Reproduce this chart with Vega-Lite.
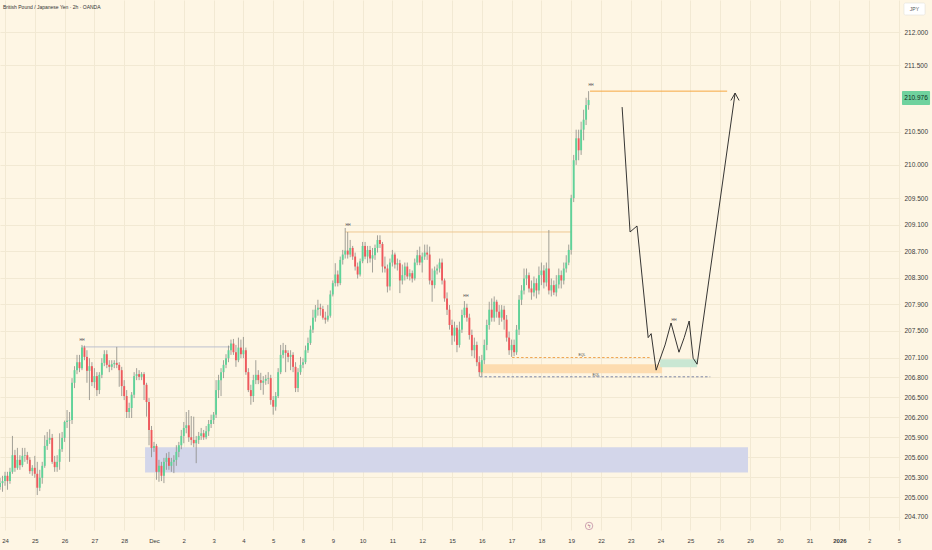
{
"$schema": "https://vega.github.io/schema/vega-lite/v6.json",
"width": 900, "height": 530,
"autosize": {"type": "none"},
"padding": {"left": 0, "top": 0, "right": 32, "bottom": 20},
"background": "#fef6e4",
"title": {"text": "British Pound / Japanese Yen · 2h · OANDA", "anchor": "start", "frame": "group", "offset": 0, "dx": 3, "dy": 10, "fontSize": 5, "fontWeight": "normal", "color": "#333333", "font": "Liberation Sans"},
"config": {"view": {"stroke": null},
"axis": {"labelOverlap": false, "labelFlush": false, "grid": true, "gridColor": "#f2e9d3", "gridWidth": 1, "ticks": false, "domain": false, "labelColor": "#3b3b3b", "labelFont": "Liberation Sans", "title": null},
"axisX": {"labelPadding": 7, "labelFontSize": 6},
"axisY": {"labelPadding": 4, "labelFontSize": 6.5}
},
"datasets": {
"zones": [
{"zone": "blue", "x1": 56.4, "x2": 299.2, "p1": 205.75, "p2": 205.37},
{"zone": "orange", "x1": 191.3, "x2": 264.6, "p1": 207.0, "p2": 206.865},
{"zone": "green", "x1": 263.8, "x2": 278.7, "p1": 207.075, "p2": 206.955}
],
"hlines": [
{"name": "hh1", "kind": "solid", "x1": 31, "x2": 90.6, "p": 207.26},
{"name": "hh2", "kind": "solid", "x1": 137, "x2": 228.3, "p": 208.99},
{"name": "hh3", "kind": "solid", "x1": 235.6, "x2": 290.8, "p": 211.11},
{"name": "eql1", "kind": "dash", "x1": 204.2, "x2": 259.8, "p": 207.1},
{"name": "eql2", "kind": "dash", "x1": 191.3, "x2": 284, "p": 206.81}
],
"candles": [
{"i":-2,"o":205.15,"h":205.29,"l":205.11,"c":205.21},
{"i":-1,"o":205.21,"h":205.32,"l":205.08,"c":205.24},
{"i":0,"o":205.24,"h":205.38,"l":205.17,"c":205.32},
{"i":1,"o":205.32,"h":205.38,"l":205.11,"c":205.24},
{"i":2,"o":205.24,"h":205.44,"l":205.20,"c":205.38},
{"i":3,"o":205.38,"h":205.92,"l":205.35,"c":205.63},
{"i":4,"o":205.63,"h":205.71,"l":205.38,"c":205.44},
{"i":5,"o":205.44,"h":205.74,"l":205.41,"c":205.56},
{"i":6,"o":205.56,"h":205.63,"l":205.41,"c":205.48},
{"i":7,"o":205.48,"h":205.74,"l":205.45,"c":205.62},
{"i":8,"o":205.62,"h":205.74,"l":205.53,"c":205.63},
{"i":9,"o":205.63,"h":205.68,"l":205.50,"c":205.56},
{"i":10,"o":205.56,"h":205.60,"l":205.35,"c":205.39},
{"i":11,"o":205.39,"h":205.48,"l":205.32,"c":205.44},
{"i":12,"o":205.44,"h":205.62,"l":205.29,"c":205.35},
{"i":13,"o":205.35,"h":205.53,"l":205.03,"c":205.14},
{"i":14,"o":205.14,"h":205.41,"l":205.09,"c":205.29},
{"i":15,"o":205.29,"h":205.53,"l":205.20,"c":205.47},
{"i":16,"o":205.47,"h":205.93,"l":205.44,"c":205.77},
{"i":17,"o":205.77,"h":205.98,"l":205.71,"c":205.86},
{"i":18,"o":205.86,"h":206.02,"l":205.80,"c":205.89},
{"i":19,"o":205.89,"h":205.95,"l":205.50,"c":205.53},
{"i":20,"o":205.53,"h":205.62,"l":205.38,"c":205.45},
{"i":21,"o":205.45,"h":205.63,"l":205.38,"c":205.53},
{"i":22,"o":205.53,"h":205.96,"l":205.41,"c":205.72},
{"i":23,"o":205.72,"h":205.98,"l":205.68,"c":205.89},
{"i":24,"o":205.89,"h":206.15,"l":205.83,"c":206.13},
{"i":25,"o":206.13,"h":206.31,"l":206.04,"c":206.15},
{"i":26,"o":206.15,"h":206.28,"l":205.53,"c":206.16},
{"i":27,"o":206.16,"h":206.79,"l":206.10,"c":206.72},
{"i":28,"o":206.72,"h":206.97,"l":206.64,"c":206.91},
{"i":29,"o":206.91,"h":207.14,"l":206.85,"c":207.03},
{"i":30,"o":207.03,"h":207.14,"l":206.88,"c":206.94},
{"i":31,"o":206.94,"h":207.29,"l":206.91,"c":207.25},
{"i":32,"o":207.25,"h":207.28,"l":207.06,"c":207.11},
{"i":33,"o":207.11,"h":207.21,"l":206.72,"c":206.90},
{"i":34,"o":206.90,"h":207.09,"l":206.46,"c":206.97},
{"i":35,"o":206.97,"h":207.03,"l":206.67,"c":206.73},
{"i":36,"o":206.73,"h":206.94,"l":206.64,"c":206.82},
{"i":37,"o":206.82,"h":206.88,"l":206.52,"c":206.61},
{"i":38,"o":206.61,"h":206.88,"l":206.55,"c":206.84},
{"i":39,"o":206.84,"h":207.09,"l":206.79,"c":207.02},
{"i":40,"o":207.02,"h":207.21,"l":206.97,"c":207.15},
{"i":41,"o":207.15,"h":207.21,"l":206.94,"c":206.99},
{"i":42,"o":206.99,"h":207.06,"l":206.88,"c":206.96},
{"i":43,"o":206.96,"h":207.06,"l":206.91,"c":207.00},
{"i":44,"o":207.00,"h":207.06,"l":206.94,"c":207.02},
{"i":45,"o":207.02,"h":207.26,"l":206.94,"c":206.99},
{"i":46,"o":206.99,"h":207.03,"l":206.66,"c":206.91},
{"i":47,"o":206.91,"h":206.96,"l":206.52,"c":206.67},
{"i":48,"o":206.67,"h":206.76,"l":206.46,"c":206.52},
{"i":49,"o":206.52,"h":206.61,"l":206.19,"c":206.28},
{"i":50,"o":206.28,"h":206.42,"l":206.19,"c":206.34},
{"i":51,"o":206.34,"h":206.58,"l":206.19,"c":206.54},
{"i":52,"o":206.54,"h":206.88,"l":206.49,"c":206.82},
{"i":53,"o":206.82,"h":206.94,"l":206.76,"c":206.85},
{"i":54,"o":206.85,"h":206.91,"l":206.76,"c":206.81},
{"i":55,"o":206.81,"h":206.88,"l":206.76,"c":206.85},
{"i":56,"o":206.85,"h":206.88,"l":206.46,"c":206.69},
{"i":57,"o":206.69,"h":206.72,"l":206.21,"c":206.43},
{"i":58,"o":206.43,"h":206.49,"l":205.78,"c":206.01},
{"i":59,"o":206.01,"h":206.07,"l":205.60,"c":205.74},
{"i":60,"o":205.74,"h":205.83,"l":205.68,"c":205.77},
{"i":61,"o":205.77,"h":205.80,"l":205.26,"c":205.38},
{"i":62,"o":205.38,"h":205.56,"l":205.23,"c":205.47},
{"i":63,"o":205.47,"h":205.53,"l":205.24,"c":205.32},
{"i":64,"o":205.32,"h":205.59,"l":205.21,"c":205.53},
{"i":65,"o":205.53,"h":205.66,"l":205.41,"c":205.59},
{"i":66,"o":205.59,"h":205.68,"l":205.41,"c":205.47},
{"i":67,"o":205.47,"h":205.59,"l":205.38,"c":205.53},
{"i":68,"o":205.53,"h":205.63,"l":205.36,"c":205.56},
{"i":69,"o":205.56,"h":205.78,"l":205.47,"c":205.68},
{"i":70,"o":205.68,"h":205.83,"l":205.60,"c":205.78},
{"i":71,"o":205.78,"h":206.01,"l":205.72,"c":205.92},
{"i":72,"o":205.92,"h":206.13,"l":205.81,"c":206.04},
{"i":73,"o":206.04,"h":206.28,"l":205.96,"c":206.08},
{"i":74,"o":206.08,"h":206.31,"l":205.83,"c":205.90},
{"i":75,"o":205.90,"h":206.22,"l":205.78,"c":205.86},
{"i":76,"o":205.86,"h":206.21,"l":205.75,"c":205.81},
{"i":77,"o":205.81,"h":205.92,"l":205.51,"c":205.86},
{"i":78,"o":205.86,"h":205.98,"l":205.80,"c":205.92},
{"i":79,"o":205.92,"h":206.04,"l":205.86,"c":205.96},
{"i":80,"o":205.96,"h":206.01,"l":205.86,"c":205.90},
{"i":81,"o":205.90,"h":206.07,"l":205.87,"c":205.99},
{"i":82,"o":205.99,"h":206.16,"l":205.92,"c":206.10},
{"i":83,"o":206.10,"h":206.24,"l":206.04,"c":206.16},
{"i":84,"o":206.16,"h":206.28,"l":206.10,"c":206.24},
{"i":85,"o":206.24,"h":206.76,"l":206.19,"c":206.61},
{"i":86,"o":206.61,"h":206.84,"l":206.49,"c":206.76},
{"i":87,"o":206.76,"h":206.94,"l":206.52,"c":206.88},
{"i":88,"o":206.88,"h":207.06,"l":206.79,"c":206.99},
{"i":89,"o":206.99,"h":207.15,"l":206.94,"c":207.09},
{"i":90,"o":207.09,"h":207.28,"l":207.03,"c":207.21},
{"i":91,"o":207.21,"h":207.37,"l":207.14,"c":207.31},
{"i":92,"o":207.31,"h":207.38,"l":207.14,"c":207.18},
{"i":93,"o":207.18,"h":207.29,"l":206.96,"c":207.06},
{"i":94,"o":207.06,"h":207.40,"l":207.03,"c":207.25},
{"i":95,"o":207.25,"h":207.37,"l":207.09,"c":207.15},
{"i":96,"o":207.15,"h":207.41,"l":207.09,"c":207.21},
{"i":97,"o":207.21,"h":207.25,"l":206.84,"c":206.88},
{"i":98,"o":206.88,"h":206.94,"l":206.58,"c":206.61},
{"i":99,"o":206.61,"h":206.69,"l":206.39,"c":206.52},
{"i":100,"o":206.52,"h":206.84,"l":206.43,"c":206.76},
{"i":101,"o":206.76,"h":207.06,"l":206.70,"c":206.84},
{"i":102,"o":206.84,"h":206.91,"l":206.70,"c":206.76},
{"i":103,"o":206.76,"h":206.87,"l":206.61,"c":206.72},
{"i":104,"o":206.72,"h":206.82,"l":206.54,"c":206.75},
{"i":105,"o":206.75,"h":206.84,"l":206.69,"c":206.78},
{"i":106,"o":206.78,"h":206.88,"l":206.70,"c":206.79},
{"i":107,"o":206.79,"h":206.84,"l":206.39,"c":206.46},
{"i":108,"o":206.46,"h":206.52,"l":206.24,"c":206.36},
{"i":109,"o":206.36,"h":206.58,"l":206.30,"c":206.52},
{"i":110,"o":206.52,"h":206.94,"l":206.49,"c":206.88},
{"i":111,"o":206.88,"h":207.29,"l":206.85,"c":207.14},
{"i":112,"o":207.14,"h":207.32,"l":207.09,"c":207.21},
{"i":113,"o":207.21,"h":207.29,"l":206.88,"c":207.17},
{"i":114,"o":207.17,"h":207.21,"l":207.03,"c":207.11},
{"i":115,"o":207.11,"h":207.21,"l":206.91,"c":207.14},
{"i":116,"o":207.14,"h":207.18,"l":206.88,"c":206.96},
{"i":117,"o":206.96,"h":207.03,"l":206.58,"c":206.64},
{"i":118,"o":206.64,"h":206.94,"l":206.58,"c":206.88},
{"i":119,"o":206.88,"h":207.11,"l":206.84,"c":206.99},
{"i":120,"o":206.99,"h":207.09,"l":206.94,"c":207.03},
{"i":121,"o":207.03,"h":207.28,"l":207.00,"c":207.21},
{"i":122,"o":207.21,"h":207.40,"l":207.17,"c":207.32},
{"i":123,"o":207.32,"h":207.58,"l":207.29,"c":207.52},
{"i":124,"o":207.52,"h":207.82,"l":207.47,"c":207.70},
{"i":125,"o":207.70,"h":207.89,"l":207.64,"c":207.82},
{"i":126,"o":207.82,"h":207.97,"l":207.73,"c":207.85},
{"i":127,"o":207.85,"h":207.91,"l":207.73,"c":207.83},
{"i":128,"o":207.83,"h":207.88,"l":207.67,"c":207.70},
{"i":129,"o":207.70,"h":207.79,"l":207.61,"c":207.67},
{"i":130,"o":207.67,"h":207.89,"l":207.64,"c":207.73},
{"i":131,"o":207.73,"h":208.11,"l":207.70,"c":208.05},
{"i":132,"o":208.05,"h":208.26,"l":208.02,"c":208.22},
{"i":133,"o":208.22,"h":208.52,"l":208.17,"c":208.35},
{"i":134,"o":208.35,"h":208.41,"l":208.17,"c":208.22},
{"i":135,"o":208.22,"h":208.62,"l":208.19,"c":208.57},
{"i":136,"o":208.57,"h":208.72,"l":208.50,"c":208.65},
{"i":137,"o":208.65,"h":209.05,"l":208.59,"c":208.71},
{"i":138,"o":208.71,"h":208.99,"l":208.59,"c":208.65},
{"i":139,"o":208.65,"h":208.87,"l":208.61,"c":208.75},
{"i":140,"o":208.75,"h":208.78,"l":208.57,"c":208.62},
{"i":141,"o":208.62,"h":208.68,"l":208.41,"c":208.47},
{"i":142,"o":208.47,"h":208.53,"l":208.29,"c":208.35},
{"i":143,"o":208.35,"h":208.59,"l":208.32,"c":208.55},
{"i":144,"o":208.55,"h":208.84,"l":208.52,"c":208.78},
{"i":145,"o":208.78,"h":208.84,"l":208.58,"c":208.62},
{"i":146,"o":208.62,"h":208.78,"l":208.52,"c":208.72},
{"i":147,"o":208.72,"h":208.78,"l":208.53,"c":208.59},
{"i":148,"o":208.59,"h":208.75,"l":208.38,"c":208.64},
{"i":149,"o":208.64,"h":208.80,"l":208.57,"c":208.75},
{"i":150,"o":208.75,"h":208.94,"l":208.68,"c":208.87},
{"i":151,"o":208.87,"h":208.94,"l":208.75,"c":208.81},
{"i":152,"o":208.81,"h":208.84,"l":208.38,"c":208.47},
{"i":153,"o":208.47,"h":208.62,"l":208.38,"c":208.44},
{"i":154,"o":208.44,"h":208.50,"l":208.08,"c":208.17},
{"i":155,"o":208.17,"h":208.59,"l":208.11,"c":208.53},
{"i":156,"o":208.53,"h":208.72,"l":208.47,"c":208.65},
{"i":157,"o":208.65,"h":208.68,"l":208.44,"c":208.50},
{"i":158,"o":208.50,"h":208.59,"l":208.41,"c":208.52},
{"i":159,"o":208.52,"h":208.57,"l":208.07,"c":208.26},
{"i":160,"o":208.26,"h":208.50,"l":208.20,"c":208.34},
{"i":161,"o":208.34,"h":208.53,"l":208.26,"c":208.47},
{"i":162,"o":208.47,"h":208.53,"l":208.28,"c":208.32},
{"i":163,"o":208.32,"h":208.43,"l":208.26,"c":208.37},
{"i":164,"o":208.37,"h":208.41,"l":208.23,"c":208.29},
{"i":165,"o":208.29,"h":208.59,"l":208.26,"c":208.53},
{"i":166,"o":208.53,"h":208.72,"l":208.49,"c":208.64},
{"i":167,"o":208.64,"h":208.77,"l":208.49,"c":208.53},
{"i":168,"o":208.53,"h":208.68,"l":208.38,"c":208.62},
{"i":169,"o":208.62,"h":208.80,"l":208.57,"c":208.68},
{"i":170,"o":208.68,"h":208.80,"l":208.57,"c":208.65},
{"i":171,"o":208.65,"h":208.77,"l":208.20,"c":208.26},
{"i":172,"o":208.26,"h":208.44,"l":207.94,"c":208.19},
{"i":173,"o":208.19,"h":208.47,"l":208.14,"c":208.41},
{"i":174,"o":208.41,"h":208.50,"l":208.35,"c":208.44},
{"i":175,"o":208.44,"h":208.59,"l":208.38,"c":208.53},
{"i":176,"o":208.53,"h":208.59,"l":208.20,"c":208.26},
{"i":177,"o":208.26,"h":208.29,"l":207.94,"c":207.99},
{"i":178,"o":207.99,"h":208.08,"l":207.74,"c":207.82},
{"i":179,"o":207.82,"h":207.89,"l":207.52,"c":207.59},
{"i":180,"o":207.59,"h":207.67,"l":207.29,"c":207.43},
{"i":181,"o":207.43,"h":207.64,"l":207.34,"c":207.55},
{"i":182,"o":207.55,"h":207.59,"l":207.18,"c":207.29},
{"i":183,"o":207.29,"h":207.64,"l":207.25,"c":207.52},
{"i":184,"o":207.52,"h":207.82,"l":207.47,"c":207.74},
{"i":185,"o":207.74,"h":207.95,"l":207.70,"c":207.85},
{"i":186,"o":207.85,"h":207.91,"l":207.64,"c":207.70},
{"i":187,"o":207.70,"h":207.76,"l":207.37,"c":207.44},
{"i":188,"o":207.44,"h":207.52,"l":207.12,"c":207.21},
{"i":189,"o":207.21,"h":207.40,"l":207.09,"c":207.29},
{"i":190,"o":207.29,"h":207.34,"l":206.97,"c":207.03},
{"i":191,"o":207.03,"h":207.12,"l":206.81,"c":206.88},
{"i":192,"o":206.88,"h":207.14,"l":206.82,"c":207.06},
{"i":193,"o":207.06,"h":207.37,"l":207.00,"c":207.29},
{"i":194,"o":207.29,"h":207.67,"l":207.21,"c":207.59},
{"i":195,"o":207.59,"h":207.94,"l":207.52,"c":207.82},
{"i":196,"o":207.82,"h":207.99,"l":207.64,"c":207.70},
{"i":197,"o":207.70,"h":208.02,"l":207.64,"c":207.94},
{"i":198,"o":207.94,"h":207.97,"l":207.70,"c":207.79},
{"i":199,"o":207.79,"h":207.89,"l":207.59,"c":207.70},
{"i":200,"o":207.70,"h":207.89,"l":207.64,"c":207.82},
{"i":201,"o":207.82,"h":207.88,"l":207.52,"c":207.67},
{"i":202,"o":207.67,"h":207.74,"l":207.34,"c":207.40},
{"i":203,"o":207.40,"h":207.49,"l":207.14,"c":207.21},
{"i":204,"o":207.21,"h":207.37,"l":207.11,"c":207.29},
{"i":205,"o":207.29,"h":207.37,"l":207.12,"c":207.18},
{"i":206,"o":207.18,"h":207.59,"l":207.14,"c":207.52},
{"i":207,"o":207.52,"h":208.04,"l":207.44,"c":207.97},
{"i":208,"o":207.97,"h":208.19,"l":207.89,"c":208.11},
{"i":209,"o":208.11,"h":208.44,"l":208.05,"c":208.29},
{"i":210,"o":208.29,"h":208.44,"l":208.19,"c":208.34},
{"i":211,"o":208.34,"h":208.38,"l":208.08,"c":208.14},
{"i":212,"o":208.14,"h":208.26,"l":207.97,"c":208.08},
{"i":213,"o":208.08,"h":208.32,"l":208.02,"c":208.22},
{"i":214,"o":208.22,"h":208.29,"l":207.99,"c":208.11},
{"i":215,"o":208.11,"h":208.47,"l":208.05,"c":208.34},
{"i":216,"o":208.34,"h":208.53,"l":208.19,"c":208.41},
{"i":217,"o":208.41,"h":208.49,"l":208.14,"c":208.23},
{"i":218,"o":208.23,"h":208.53,"l":208.17,"c":208.44},
{"i":219,"o":208.44,"h":209.02,"l":208.05,"c":208.11},
{"i":220,"o":208.11,"h":208.29,"l":208.02,"c":208.19},
{"i":221,"o":208.19,"h":208.26,"l":208.04,"c":208.08},
{"i":222,"o":208.08,"h":208.34,"l":208.02,"c":208.20},
{"i":223,"o":208.20,"h":208.44,"l":208.14,"c":208.34},
{"i":224,"o":208.34,"h":208.41,"l":208.14,"c":208.26},
{"i":225,"o":208.26,"h":208.53,"l":208.20,"c":208.44},
{"i":226,"o":208.44,"h":208.64,"l":208.38,"c":208.53},
{"i":227,"o":208.53,"h":208.80,"l":208.49,"c":208.72},
{"i":228,"o":208.72,"h":209.55,"l":208.65,"c":209.50},
{"i":229,"o":209.50,"h":210.15,"l":209.44,"c":210.07},
{"i":230,"o":210.07,"h":210.53,"l":210.00,"c":210.40},
{"i":231,"o":210.40,"h":210.53,"l":210.07,"c":210.22},
{"i":232,"o":210.22,"h":210.65,"l":210.15,"c":210.53},
{"i":233,"o":210.53,"h":210.83,"l":210.37,"c":210.68},
{"i":234,"o":210.68,"h":211.01,"l":210.60,"c":210.90},
{"i":235,"o":210.90,"h":211.11,"l":210.83,"c":210.976}
],
"proj": [
{"seg": "path", "k": 0, "x": 248.5, "p": 210.87},
{"seg": "path", "k": 1, "x": 251.7, "p": 208.99},
{"seg": "path", "k": 2, "x": 254.5, "p": 209.08},
{"seg": "path", "k": 3, "x": 259.0, "p": 207.40},
{"seg": "path", "k": 4, "x": 260.2, "p": 207.46},
{"seg": "path", "k": 5, "x": 262.2, "p": 206.91},
{"seg": "path", "k": 6, "x": 265.8, "p": 207.29},
{"seg": "path", "k": 7, "x": 268.2, "p": 207.62},
{"seg": "path", "k": 8, "x": 271.4, "p": 207.18},
{"seg": "path", "k": 9, "x": 273.5, "p": 207.40},
{"seg": "path", "k": 10, "x": 275.5, "p": 207.65},
{"seg": "path", "k": 11, "x": 277.1, "p": 207.09},
{"seg": "path", "k": 12, "x": 278.7, "p": 207.00},
{"seg": "path", "k": 13, "x": 294.0, "p": 211.08},
{"seg": "arrow", "k": 0, "x": 292.3, "p": 210.97},
{"seg": "arrow", "k": 1, "x": 294.0, "p": 211.08},
{"seg": "arrow", "k": 2, "x": 295.6, "p": 210.97}
],
"notes": [
{"t": "HH", "x": 31.0, "p": 207.33},
{"t": "HH", "x": 138.1, "p": 209.06},
{"t": "HH", "x": 185.6, "p": 208.0},
{"t": "HH", "x": 236.0, "p": 211.17},
{"t": "HH", "x": 269.4, "p": 207.64},
{"t": "EQL", "x": 232.3, "p": 207.11},
{"t": "EQL", "x": 238.0, "p": 206.81}
],
"boxes": [
{"b": "jpy", "x1": 362.0, "x2": 370.5, "p1": 212.437, "p2": 212.256},
{"b": "last", "x1": 361.2, "x2": 372.5, "p1": 211.112, "p2": 210.902}
],
"boxtext": [
{"b": "jpy", "t": "JPY", "x": 366.2, "p": 212.345},
{"b": "last", "t": "210.976", "x": 366.85, "p": 211.005}
],
"event": [{"x": 235.2, "p": 204.565}]
},
"layer": [
{
"data": {"name": "zones"},
"mark": {"type": "rect"},
"encoding": {
"x": {"field": "x1", "type": "quantitative", "title": null, "scale": {"domain": [-2.01, 360.4], "nice": false, "zero": false},
"axis": {"orient": "bottom", "values": [0,12,24,36,48,60,72,84,96,108,120,132,144,156,168,180,192,204,216,228,240,252,264,276,288,300,312,324,336,348,360],
"tickCount": 100,
"labelExpr": "['24','25','26','27','28','Dec','2','3','4','5','8','9','10','11','12','15','16','17','18','19','22','23','24','25','26','29','30','31','2026','2','5'][round(datum.value/12)]",
"labelOverlap": false, "labelFlush": false,
"labelFontWeight": {"condition": {"test": "datum.value == 336", "value": "bold"}, "value": "normal"},
"title": null}},
"x2": {"field": "x2"},
"y": {"field": "p1", "type": "quantitative", "title": null, "scale": {"domain": [204.504, 212.482], "nice": false, "zero": false},
"axis": {"orient": "right", "values": [212,211.5,210.5,210,209.5,209.1,208.7,208.3,207.9,207.5,207.1,206.8,206.5,206.2,205.9,205.6,205.3,205,204.7], "tickCount": 100, "format": ".3f", "labelOverlap": false, "labelFlush": false, "title": null}},
"y2": {"field": "p2"},
"color": {"field": "zone", "type": "nominal", "scale": {"domain": ["blue","orange","green"], "range": ["#d3d6ea","#fddcb0","#c9e7d3"]}, "legend": null}
}
},
{
"data": {"name": "hlines"},
"mark": {"type": "rule", "strokeWidth": 1},
"encoding": {
"x": {"field": "x1", "type": "quantitative", "title": null},
"x2": {"field": "x2"},
"y": {"field": "p", "type": "quantitative", "title": null},
"stroke": {"field": "name", "type": "nominal", "scale": {"domain": ["hh1","hh2","hh3","eql1","eql2"], "range": ["#bcc0cf","#ecc38c","#f5a53c","#f0a650","#7f88a6"]}, "legend": null},
"strokeDash": {"field": "kind", "type": "nominal", "scale": {"domain": ["solid","dash"], "range": [[1,0],[2.5,2]]}, "legend": null}
}
},
{
"data": {"name": "candles"},
"mark": {"type": "rule", "strokeWidth": 0.8, "color": "#8a8a84"},
"encoding": {
"x": {"field": "i", "type": "quantitative", "title": null},
"y": {"field": "h", "type": "quantitative", "title": null},
"y2": {"field": "l"}
}
},
{
"data": {"name": "candles"},
"mark": {"type": "rule", "strokeWidth": 1.9},
"encoding": {
"x": {"field": "i", "type": "quantitative", "title": null},
"y": {"field": "o", "type": "quantitative", "title": null},
"y2": {"field": "c"},
"color": {"condition": {"test": "datum.c >= datum.o", "value": "#5fd399"}, "value": "#f0585c"}
}
},
{
"data": {"name": "proj"},
"mark": {"type": "line", "strokeWidth": 0.9, "color": "#1f1f1f"},
"encoding": {
"x": {"field": "x", "type": "quantitative", "title": null},
"y": {"field": "p", "type": "quantitative", "title": null},
"detail": {"field": "seg"},
"order": {"field": "k", "type": "quantitative"}
}
},
{
"data": {"name": "notes"},
"mark": {"type": "text", "fontSize": 3.5, "color": "#444444", "font": "Liberation Sans", "baseline": "bottom"},
"encoding": {
"x": {"field": "x", "type": "quantitative", "title": null},
"y": {"field": "p", "type": "quantitative", "title": null},
"text": {"field": "t"}
}
},
{
"data": {"name": "boxes"},
"transform": [{"filter": "datum.b == 'jpy'"}],
"mark": {"type": "rect", "fill": "#ffffff", "stroke": "#e3e0da", "strokeWidth": 0.6, "cornerRadius": 1.5},
"encoding": {
"x": {"field": "x1", "type": "quantitative", "title": null},
"x2": {"field": "x2"},
"y": {"field": "p1", "type": "quantitative", "title": null},
"y2": {"field": "p2"}
}
},
{
"data": {"name": "boxes"},
"transform": [{"filter": "datum.b == 'last'"}],
"mark": {"type": "rect", "fill": "#6fd29e", "cornerRadius": 1},
"encoding": {
"x": {"field": "x1", "type": "quantitative", "title": null},
"x2": {"field": "x2"},
"y": {"field": "p1", "type": "quantitative", "title": null},
"y2": {"field": "p2"}
}
},
{
"data": {"name": "boxtext"},
"mark": {"type": "text", "font": "Liberation Sans", "baseline": "middle", "align": "center"},
"encoding": {
"x": {"field": "x", "type": "quantitative", "title": null},
"y": {"field": "p", "type": "quantitative", "title": null},
"text": {"field": "t"},
"size": {"condition": {"test": "datum.b == 'jpy'", "value": 5}, "value": 6.5},
"color": {"condition": {"test": "datum.b == 'jpy'", "value": "#555555"}, "value": "#0e2e1c"}
}
},
{
"data": {"name": "event"},
"mark": {"type": "point", "shape": "circle", "size": 55, "filled": false, "stroke": "#a8668a", "strokeWidth": 0.8},
"encoding": {
"x": {"field": "x", "type": "quantitative", "title": null},
"y": {"field": "p", "type": "quantitative", "title": null}
}
},
{
"data": {"name": "event"},
"mark": {"type": "text", "text": "ϟ", "fontSize": 5, "color": "#a8668a", "baseline": "middle", "align": "center"},
"encoding": {
"x": {"field": "x", "type": "quantitative", "title": null},
"y": {"field": "p", "type": "quantitative", "title": null}
}
}
]
}
